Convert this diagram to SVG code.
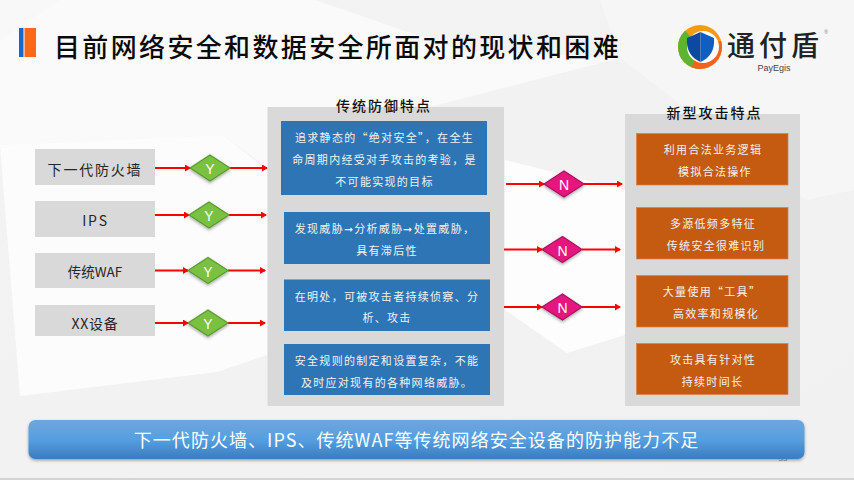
<svg xmlns="http://www.w3.org/2000/svg" width="854" height="480" viewBox="0 0 854 480">
<style>
text{font-family:"Noto Sans CJK SC","Noto Sans",sans-serif;text-anchor:middle;dominant-baseline:central}
.panel{fill:#d9d9d9}
.dev{font-size:14px;letter-spacing:1.8px;fill:#262626}
.head{font-size:14px;letter-spacing:2px;fill:#111;font-weight:500}
.blue{fill:#2e75b6}
.org{fill:#c55a11;stroke:#d9804a;stroke-width:.7}
.lt{font-size:11px;letter-spacing:1.3px;fill:#f2f2f2}
.yn{font-size:14px;fill:#fff;font-family:"Liberation Sans",sans-serif}
.y{fill:#7ac143;stroke:#5a9a2e;stroke-width:1.2}
.n{fill:#e6177e;stroke:#a8125e;stroke-width:1.2}
.c{stroke:#ff0000;stroke-width:2;fill:none;marker-end:url(#a)}
</style>
<defs>
<marker id="a" markerUnits="userSpaceOnUse" markerWidth="6" markerHeight="7" refX="5" refY="3.5" orient="auto"><path d="M0 0L6 3.500L0 7z" fill="#ff0000"/></marker>
<linearGradient id="b" x1="0" y1="0" x2="0" y2="1"><stop offset="0" stop-color="#70a5dc"/><stop offset=".5" stop-color="#559fe0"/><stop offset="1" stop-color="#3b7cc0"/></linearGradient>
<linearGradient id="bg" x1="0" y1="0" x2="1" y2="1"><stop offset="0" stop-color="#f3f3f4"/><stop offset="1" stop-color="#f1f1f2"/></linearGradient>
<filter id="s" x="-5%" y="-20%" width="110%" height="140%"><feDropShadow dx="0" dy="1.5" stdDeviation="1.5" flood-color="#000" flood-opacity=".35"/></filter>
<clipPath id="lc"><circle cx="700" cy="47" r="22"/></clipPath>
</defs>
<g id="background">
<rect width="854" height="480" fill="url(#bg)"/>
<path d="M0 145L223 135L270 170L360 125L620 58L460 50L315 0H0z" fill="#fafafa"/>
<path d="M20 396L217 372L267 355V170L223 135L0 145z" fill="#fcfcfc"/>
<path d="M505 310L567 353L625 335V190L505 160z" fill="#fdfdfd"/>
<path d="M806 200L854 190V0H600L620 58z" fill="#f6f6f7"/>
<path d="M0 0H60L0 40z" fill="#f8f8f8"/>
<rect y="478" width="854" height="2" fill="#d4d4d4"/>
</g>
<g id="title">
<rect x="19" y="28" width="4.500" height="29" fill="#1268d0"/>
<rect x="24.500" y="28" width="11.500" height="29" fill="#ff671b"/>
<text x="337.500" y="45" font-size="26" letter-spacing="2.350" font-weight="500" fill="#0a0a0a">目前网络安全和数据安全所面对的现状和困难</text>
</g>
<g id="logo">
<g clip-path="url(#lc)">
<rect x="676" y="23" width="48" height="48" fill="#f39c12"/>
<path d="M700 47L678 23H676V71H700z" fill="#5cb531"/>
<path d="M700 47L724 40V71H690z" fill="#f0641e"/>
<circle cx="703" cy="47" r="16" fill="#fff"/>
</g>
<path d="M700.500 32L714 38C715 50 710 58 700.500 62z" fill="#0f5fc0"/>
<path d="M700.500 32L687 38C686 50 691 58 700.500 62z" fill="#0c49a0"/>
<text x="775" y="44" font-size="28" font-weight="500" letter-spacing="4" fill="#222">通付盾</text>
<text x="774" y="68" font-size="9" fill="#444" style="font-family:'Liberation Sans',sans-serif">PayEgis</text>
<text x="826" y="32" font-size="5" fill="#777" style="font-family:'Liberation Sans',sans-serif">®</text>
</g>
<g id="connectors">
<path class="c" d="M153 168H190"/><path class="c" d="M230 168H267"/>
<path class="c" d="M152 215H189"/><path class="c" d="M229 215H266"/>
<path class="c" d="M151 270.500H188"/><path class="c" d="M228 270.500H265"/>
<path class="c" d="M151 323H188"/><path class="c" d="M228 323H265"/>
<path class="c" d="M506 184H544"/><path class="c" d="M584 184H622"/>
<path class="c" d="M504 249.500H542"/><path class="c" d="M582 249.500H620"/>
<path class="c" d="M504 307H542"/><path class="c" d="M582 307H620"/>
</g>
<g id="dev1"><rect class="panel" x="35" y="149" width="120" height="36"/><text class="dev" x="95" y="168.500">下一代防火墙</text></g>
<g id="dev2"><rect class="panel" x="35" y="201" width="120" height="36"/><text class="dev" x="95.500" y="219.500">IPS</text></g>
<g id="dev3"><rect class="panel" x="35" y="253" width="120" height="35"/><text class="dev" x="95" y="271" style="letter-spacing:0;font-size:13.500px">传统WAF</text></g>
<g id="dev4"><rect class="panel" x="35" y="305" width="120" height="31"/><text class="dev" x="95" y="323" style="letter-spacing:.8px">XX设备</text></g>
<g id="y1"><path class="y" d="M190 168L210 155L230 168L210 181z" filter="url(#s)"/><text class="yn" x="210" y="169">Y</text></g>
<g id="y2"><path class="y" d="M189 215L209 202L229 215L209 228z" filter="url(#s)"/><text class="yn" x="209" y="216">Y</text></g>
<g id="y3"><path class="y" d="M188 270.500L208 257.500L228 270.500L208 283.500z" filter="url(#s)"/><text class="yn" x="208" y="271.500">Y</text></g>
<g id="y4"><path class="y" d="M188 323L208 310L228 323L208 336z" filter="url(#s)"/><text class="yn" x="208" y="324">Y</text></g>
<g id="n1"><path class="n" d="M544 184L564 171L584 184L564 197z" filter="url(#s)"/><text class="yn" x="564" y="185">N</text></g>
<g id="n2"><path class="n" d="M542 249.500L562.500 236.500L582 249.500L562.500 262.500z" filter="url(#s)"/><text class="yn" x="562.500" y="250.500">N</text></g>
<g id="n3"><path class="n" d="M542 307L562.500 294L582 307L562.500 320z" filter="url(#s)"/><text class="yn" x="562.500" y="308">N</text></g>
<g id="traditional">
<rect class="panel" x="267.500" y="107" width="236.500" height="299"/>
<text class="head" x="384" y="105">传统防御特点</text>
<rect class="blue" x="281" y="121" width="206" height="74"/>
<text class="lt" x="384.500" y="136.500">追求静态的“绝对安全”，在全生</text>
<text class="lt" x="384.500" y="159">命周期内经受对手攻击的考验，是</text>
<text class="lt" x="384.500" y="181">不可能实现的目标</text>
<rect class="blue" x="284" y="212" width="206" height="52"/>
<text class="lt" x="385" y="228">发现威胁➞分析威胁➞处置威胁，</text>
<text class="lt" x="387" y="250">具有滞后性</text>
<rect class="blue" x="284" y="279.500" width="206" height="51.500"/>
<text class="lt" x="387" y="295.500">在明处，可被攻击者持续侦察、分</text>
<text class="lt" x="387" y="317">析、攻击</text>
<rect class="blue" x="284" y="344" width="206" height="51"/>
<text class="lt" x="387" y="359.500">安全规则的制定和设置复杂，不能</text>
<text class="lt" x="387" y="381.500">及时应对现有的各种网络威胁。</text>
</g>
<g id="newattack">
<rect class="panel" x="625" y="114" width="175" height="292"/>
<text class="head" x="714.500" y="112">新型攻击特点</text>
<rect class="org" x="636.500" y="133.500" width="151.500" height="51.500"/>
<text class="lt" x="713" y="149">利用合法业务逻辑</text>
<text class="lt" x="715" y="171">模拟合法操作</text>
<rect class="org" x="636.500" y="207.500" width="151.500" height="51.500"/>
<text class="lt" x="713" y="223">多源低频多特征</text>
<text class="lt" x="716" y="245">传统安全很难识别</text>
<rect class="org" x="636.500" y="275.500" width="151.500" height="51.500"/>
<text class="lt" x="712" y="291">大量使用“工具”</text>
<text class="lt" x="716" y="313">高效率和规模化</text>
<rect class="org" x="636.500" y="343.500" width="151.500" height="51"/>
<text class="lt" x="713" y="358.500">攻击具有针对性</text>
<text class="lt" x="712.500" y="380.500">持续时间长</text>
</g>
<g id="conclusion">
<text x="783" y="458" font-size="8" fill="#8a8a8a" style="font-family:'Liberation Sans',sans-serif">33</text>
<rect x="28.500" y="420" width="776" height="39" rx="7" fill="url(#b)" filter="url(#s)"/>
<text x="416.500" y="439" font-size="18" letter-spacing="1.050" fill="#fff">下一代防火墙、IPS、传统WAF等传统网络安全设备的防护能力不足</text>
</g>
</svg>
